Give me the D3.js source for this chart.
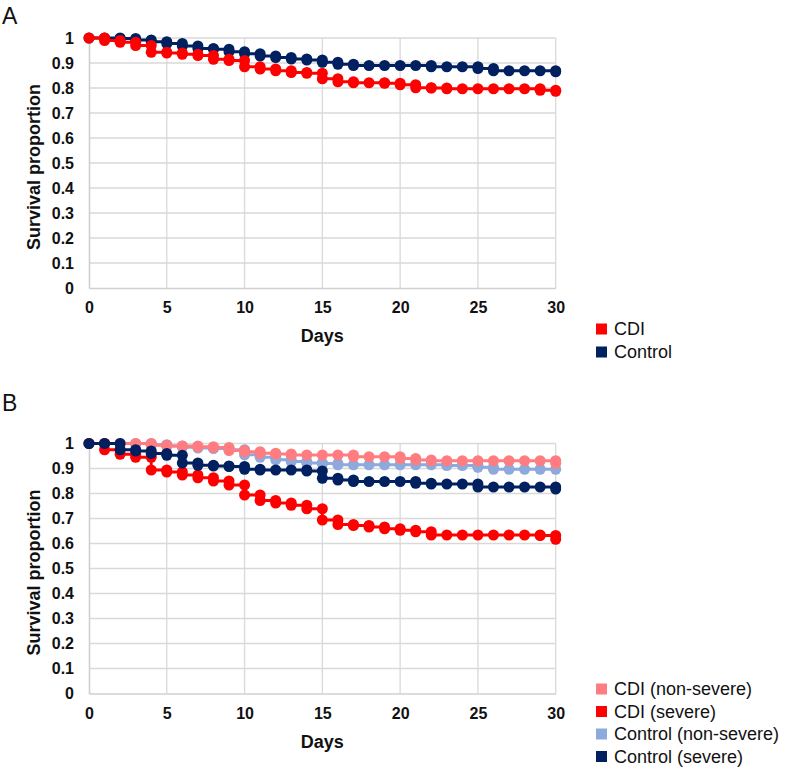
<!DOCTYPE html>
<html><head><meta charset="utf-8">
<script src="https://cdn.jsdelivr.net/npm/d3@7"></script>
<style>body{margin:0;background:#fff;}svg{display:block;font-family:"Liberation Sans",Arial,sans-serif;}</style>
</head><body>
<svg id="c" width="789" height="769"></svg>
<script>
const days = d3.range(0, 31);
const xTicks = [0, 5, 10, 15, 20, 25, 30];
const yTicks = [0, 0.1, 0.2, 0.3, 0.4, 0.5, 0.6, 0.7, 0.8, 0.9, 1];
const yTickLabels = ["0", "0.1", "0.2", "0.3", "0.4", "0.5", "0.6", "0.7", "0.8", "0.9", "1"];

// Panel A
const seriesNamesA = ["CDI", "Control"];
const cdiA = [1.0, 0.99, 0.983, 0.97, 0.943, 0.94, 0.935, 0.93, 0.915, 0.91, 0.885, 0.876, 0.869, 0.862, 0.859, 0.837, 0.825, 0.821, 0.821, 0.819, 0.813, 0.801, 0.8, 0.797, 0.797, 0.797, 0.797, 0.797, 0.797, 0.791, 0.787];
const controlA = [1.0, 1.0, 0.998, 0.992, 0.985, 0.978, 0.968, 0.958, 0.955, 0.945, 0.937, 0.928, 0.922, 0.916, 0.912, 0.903, 0.895, 0.89, 0.89, 0.89, 0.89, 0.89, 0.885, 0.885, 0.885, 0.878, 0.869, 0.869, 0.869, 0.869, 0.865];

// Panel B
const seriesNamesB = ["CDI (non-severe)", "CDI (severe)", "Control (non-severe)", "Control (severe)"];
const cdiNonSevere = [1.0, 1.0, 1.0, 1.0, 0.993, 0.99, 0.99, 0.987, 0.984, 0.972, 0.967, 0.961, 0.958, 0.954, 0.954, 0.954, 0.954, 0.947, 0.947, 0.947, 0.94, 0.934, 0.931, 0.931, 0.931, 0.931, 0.931, 0.931, 0.931, 0.931, 0.921];
const cdiSevere = [1.0, 0.975, 0.957, 0.945, 0.894, 0.886, 0.874, 0.863, 0.85, 0.834, 0.794, 0.772, 0.762, 0.753, 0.739, 0.694, 0.676, 0.672, 0.666, 0.659, 0.653, 0.647, 0.634, 0.634, 0.634, 0.634, 0.634, 0.634, 0.634, 0.632, 0.617];
const controlNonSevere = [1.0, 1.0, 1.0, 1.0, 0.995, 0.99, 0.985, 0.982, 0.98, 0.975, 0.955, 0.945, 0.935, 0.928, 0.922, 0.92, 0.915, 0.915, 0.915, 0.915, 0.915, 0.915, 0.915, 0.912, 0.912, 0.905, 0.897, 0.897, 0.897, 0.897, 0.897];
const controlSevere = [1.0, 1.0, 0.975, 0.97, 0.96, 0.953, 0.922, 0.913, 0.91, 0.908, 0.897, 0.894, 0.894, 0.894, 0.89, 0.861, 0.854, 0.848, 0.848, 0.848, 0.848, 0.841, 0.838, 0.838, 0.838, 0.826, 0.826, 0.826, 0.826, 0.826, 0.818];

const colors = {
  "CDI": "#FF0000", "Control": "#002060",
  "CDI (non-severe)": "#FF7C80", "CDI (severe)": "#FF0000",
  "Control (non-severe)": "#8EA9DB", "Control (severe)": "#002060"
};

const svg = d3.select("#c");
const x = d3.scaleLinear().domain([0, 30]).range([89, 555.7]);

function stepPoints(vals) {
  const pts = [[days[0], vals[0]]];
  for (let i = 1; i < vals.length; i++) {
    if (vals[i] !== vals[i - 1]) pts.push([days[i], vals[i - 1]]);
    pts.push([days[i], vals[i]]);
  }
  return pts;
}

function panel(opt) {
  const y = d3.scaleLinear().domain([0, 1]).range([opt.bottom, opt.bottom - 250]);
  const g = svg.append("g");
  // grid
  g.append("g").selectAll("line").data(yTicks.slice(1)).join("line")
    .attr("x1", x(0)).attr("x2", x(30)).attr("y1", d => y(d)).attr("y2", d => y(d))
    .attr("stroke", "#D9D9D9").attr("stroke-width", 1.3);
  g.append("g").selectAll("line").data(xTicks.slice(1)).join("line")
    .attr("x1", d => x(d)).attr("x2", d => x(d)).attr("y1", y(0)).attr("y2", y(1))
    .attr("stroke", "#D9D9D9").attr("stroke-width", 1.3);
  // axes
  const ax = g.append("g").attr("transform", `translate(0,${y(0)})`)
    .call(d3.axisBottom(x).tickValues(xTicks).tickSize(0).tickPadding(14));
  ax.select(".domain").attr("stroke", "#D0D0D0").attr("stroke-width", 1.6);
  ax.selectAll("text").attr("font-size", 16).attr("font-weight", "bold").attr("fill", "#111")
    .attr("font-family", "Liberation Sans, Arial, sans-serif");
  const ay = g.append("g").attr("transform", `translate(${x(0)},0)`)
    .call(d3.axisLeft(y).tickValues(yTicks).tickFormat((d, i) => yTickLabels[i]).tickSize(0).tickPadding(15));
  ay.select(".domain").attr("stroke", "#D0D0D0").attr("stroke-width", 1.6);
  ay.selectAll("text").attr("font-size", 16).attr("font-weight", "bold").attr("fill", "#111")
    .attr("font-family", "Liberation Sans, Arial, sans-serif");
  // titles
  g.append("text").attr("x", (x(0) + x(30)) / 2).attr("y", y(0) + 54).attr("text-anchor", "middle")
    .attr("font-size", 18).attr("font-weight", "bold").attr("fill", "#111").text("Days");
  g.append("text").attr("transform", `translate(40,${(y(0) + y(1)) / 2 + 4}) rotate(-90)`)
    .attr("text-anchor", "middle").attr("font-size", 18).attr("font-weight", "bold").attr("fill", "#111")
    .text("Survival proportion");
  g.append("text").attr("x", 2).attr("y", opt.letterY).attr("font-size", 23).attr("fill", "#111").text(opt.letter);
  // series
  const line = d3.line().x(d => x(d[0])).y(d => y(d[1]));
  opt.drawOrder.forEach(k => {
    const pts = stepPoints(opt.series[k]);
    const sg = g.append("g");
    sg.append("path").attr("d", line(pts)).attr("fill", "none").attr("stroke", colors[k]).attr("stroke-width", 2.8);
    sg.selectAll("circle").data(pts).join("circle")
      .attr("cx", d => x(d[0])).attr("cy", d => y(d[1])).attr("r", 5.5).attr("fill", colors[k]);
  });
  // legend
  const lg = g.append("g");
  opt.names.forEach((n, i) => {
    const cy = opt.legendY + i * opt.legendStep;
    lg.append("rect").attr("x", 596).attr("y", cy - 5.5).attr("width", 11).attr("height", 11).attr("fill", colors[n]);
    lg.append("text").attr("x", 614).attr("y", cy).attr("dy", "0.35em").attr("font-size", 18).attr("fill", "#111").text(n);
  });
}

panel({
  bottom: 288, letter: "A", letterY: 24,
  names: seriesNamesA,
  series: {"CDI": cdiA, "Control": controlA},
  drawOrder: ["Control", "CDI"],
  legendY: 329, legendStep: 23
});
panel({
  bottom: 693.5, letter: "B", letterY: 411,
  names: seriesNamesB,
  series: {"CDI (non-severe)": cdiNonSevere, "CDI (severe)": cdiSevere, "Control (non-severe)": controlNonSevere, "Control (severe)": controlSevere},
  drawOrder: ["Control (non-severe)", "CDI (non-severe)", "CDI (severe)", "Control (severe)"],
  legendY: 689, legendStep: 22.5
});
</script>
</body></html>
